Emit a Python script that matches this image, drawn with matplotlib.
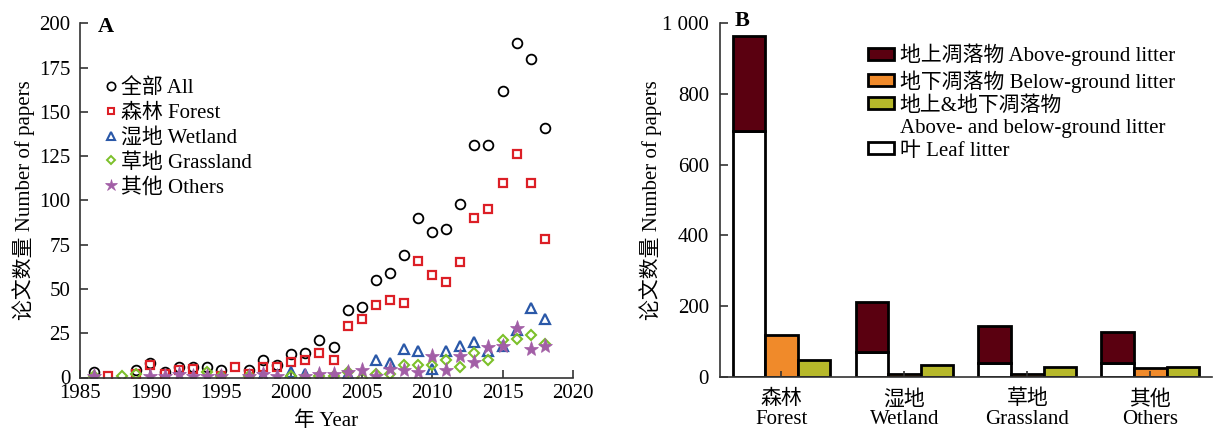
import numpy as np
import matplotlib
matplotlib.use("Agg")
import matplotlib.pyplot as plt
from matplotlib.patches import Patch
from matplotlib.lines import Line2D

plt.rcParams['font.family'] = ['Liberation Serif', 'Noto Sans CJK SC', 'DejaVu Sans']
plt.rcParams['font.size'] = 15

nan = np.nan
years = list(range(1986, 2019))
all_papers = [3, nan, nan, 4, 8, 3, 6, 6, 6, 4, nan, 4, 10, 7, 13, 14, 21, 17, 38, 40,
              55, 59, 69, 90, 82, 84, 98, 131, 131, 162, 189, 180, 141]
forest = [nan, 1, nan, 2, 7, 2, 4, 5, nan, 1, 6, 2, 6, 6, 9, 10, 14, 10, 29, 33,
          41, 44, 42, 66, 58, 54, 65, 90, 95, 110, 126, 110, 78]
wetland = [nan, nan, nan, nan, nan, nan, nan, nan, nan, nan, nan, nan, 1, nan, 3, 2, nan, nan, 2, nan,
           10, 8, 16, 15, 5, 15, 18, 20, 15, 18, 27, 39, 33]
grassland = [1, nan, 1, 2, nan, nan, nan, nan, 3, 1, nan, 1, nan, nan, 1, 0, 1, 1, 3, 0,
             2, 2, 7, 7, 7, 10, 6, 14, 10, 21, 22, 24, 19]
others = [1, nan, nan, nan, 1, 1, 2, 1, 1, 1, nan, 1, 2, 1, nan, 1, 2, 2, 3, 4,
          1, 5, 4, 3, 12, 4, 12, 9, 17, 18, 28, 16, 18]
series_labels = ['全部 All', '森林 Forest', '湿地 Wetland', '草地 Grassland', '其他 Others']

categories = ['森林\nForest', '湿地\nWetland', '草地\nGrassland', '其他\nOthers']
above_total = [962, 213, 145, 128]
leaf = [695, 70, 41, 40]
below = [119, 9, 8, 25]
both = [49, 35, 28, 29]
bar_labels = ['地上凋落物 Above-ground litter', '地下凋落物 Below-ground litter',
              '地上&地下凋落物', 'Above- and below-ground litter', '叶 Leaf litter']

W, H = 1213, 430
fig = plt.figure(figsize=(W / 100, H / 100), dpi=100)

def ax_rect(l, r, t, b):
    return [l / W, 1 - b / H, (r - l) / W, (b - t) / H]

# ---------- Panel A ----------
axA = fig.add_axes(ax_rect(80, 573, 23.3, 377.5))
c_all, c_for, c_wet, c_gra, c_oth = 'black', '#dc1f26', '#2a58a8', '#7cc02a', '#a25ea6'
axA.plot(years, all_papers, 'o', mfc='none', mec=c_all, ms=7, mew=1.3, ls='none')
axA.plot(years, forest, 's', mfc='none', mec=c_for, ms=6, mew=1.6, ls='none')
axA.plot(years, wetland, '^', mfc='none', mec=c_wet, ms=7, mew=1.6, ls='none')
axA.plot(years, grassland, 'D', mfc='none', mec=c_gra, ms=5.5, mew=1.5, ls='none')
axA.plot(years, others, '*', mfc=c_oth, mec=c_oth, ms=11, mew=0.5, ls='none')
axA.set_xlim(1985, 2020)
axA.set_ylim(0, 200)
axA.set_xticks(range(1985, 2021, 5))
axA.set_yticks(range(0, 201, 25))
for s in ['top', 'right']:
    axA.spines[s].set_visible(False)
for s in ['left', 'bottom']:
    axA.spines[s].set_linewidth(1.2)
    axA.spines[s].set_color('#333333')
axA.tick_params(direction='in', length=6, width=1.2, color='#333333', labelsize=15)
axA.tick_params(axis='y', pad=7)
axA.tick_params(axis='x', pad=5)
axA.set_xlabel('年 Year', fontsize=15, labelpad=6)
axA.set_ylabel('论文数量 Number of papers', fontsize=15, labelpad=3)
axA.text(98 / W, 1 - 27 / H, 'A', transform=fig.transFigure, fontsize=16,
         fontweight='bold', ha='left', va='center')

handles = [
    Line2D([], [], marker='o', ls='none', mfc='none', mec=c_all, ms=6, mew=1.2),
    Line2D([], [], marker='s', ls='none', mfc='none', mec=c_for, ms=5, mew=1.5),
    Line2D([], [], marker='^', ls='none', mfc='none', mec=c_wet, ms=6, mew=1.5),
    Line2D([], [], marker='D', ls='none', mfc='none', mec=c_gra, ms=4.5, mew=1.4),
    Line2D([], [], marker='*', ls='none', mfc=c_oth, mec=c_oth, ms=9, mew=0.5),
]
axA.legend(handles, series_labels, loc='upper left', bbox_to_anchor=(0.045, 0.845),
           frameon=False, borderpad=0, borderaxespad=0, handlelength=0.8,
           handletextpad=0.1, labelspacing=0.25, fontsize=15)

# ---------- Panel B ----------
axB = fig.add_axes(ax_rect(720, 1211.7, 22.7, 377.3))
x = np.arange(len(categories))
bw = 0.265
c_above, c_below, c_both = '#5a0010', '#f08a2a', '#b6b82a'
above_rest = [a - l for a, l in zip(above_total, leaf)]
kw = dict(width=bw, edgecolor='black', linewidth=2.0, align='center')
axB.bar(x - bw, leaf, color='white', **kw)
axB.bar(x - bw, above_rest, bottom=leaf, color=c_above, **kw)
axB.bar(x, below, color=c_below, **kw)
axB.bar(x + bw, both, color=c_both, **kw)
axB.set_xlim(-0.5, 3.5)
axB.set_ylim(0, 1000)
axB.set_yticks(range(0, 1001, 200))
axB.set_yticklabels(['0', '200', '400', '600', '800', '1 000'])
axB.set_xticks(x)
axB.set_xticklabels(categories, linespacing=1.05)
for s in ['top', 'right']:
    axB.spines[s].set_visible(False)
for s in ['left', 'bottom']:
    axB.spines[s].set_linewidth(1.2)
    axB.spines[s].set_color('#333333')
axB.tick_params(direction='in', length=6, width=1.2, color='#333333', labelsize=15)
axB.tick_params(axis='y', pad=8)
axB.tick_params(axis='x', length=4, pad=9)
axB.set_ylabel('论文数量 Number of papers', fontsize=15, labelpad=0)
axB.text(735 / W, 1 - 21 / H, 'B', transform=fig.transFigure, fontsize=16,
         fontweight='bold', ha='left', va='center')

bh = [Patch(facecolor=c_above, edgecolor='black', linewidth=2.0),
      Patch(facecolor=c_below, edgecolor='black', linewidth=2.0),
      Patch(facecolor=c_both, edgecolor='black', linewidth=2.0),
      Patch(facecolor='none', edgecolor='none', linewidth=0),
      Patch(facecolor='white', edgecolor='black', linewidth=2.0)]
axB.legend(bh, bar_labels, loc='upper left', bbox_to_anchor=(0.30, 0.94),
           frameon=False, borderpad=0, borderaxespad=0, handlelength=1.25,
           handleheight=0.5, handletextpad=0.3, labelspacing=0.17, fontsize=15)

fig.savefig('out.png', dpi=100)
